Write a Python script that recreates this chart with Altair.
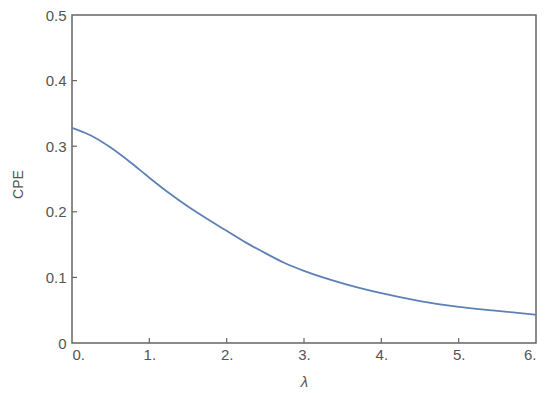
import altair as alt
import pandas as pd

lam = [0, 0.25, 0.5, 0.75, 1.0, 1.25, 1.5, 1.75, 2.0, 2.25, 2.5, 2.75, 3.0,
       3.5, 4.0, 4.5, 5.0, 5.5, 6.0]
cpe = [0.328, 0.316, 0.298, 0.276, 0.252, 0.229, 0.208, 0.189, 0.171, 0.153,
       0.137, 0.122, 0.110, 0.091, 0.076, 0.064, 0.055, 0.049, 0.043]

x_ticks = [0, 1, 2, 3, 4, 5, 6]
y_ticks = [0, 0.1, 0.2, 0.3, 0.4, 0.5]
x_inner_ticks = [1, 2, 3, 4, 5]
y_inner_ticks = [0.1, 0.2, 0.3, 0.4]

W, H = 464, 328
FRAME = "#666666"
TEXT = "#555555"
FONT = "Liberation Sans"

df = pd.DataFrame({"lam": lam, "cpe": cpe})
xt = pd.DataFrame({"t": x_inner_ticks})
yt = pd.DataFrame({"t": y_inner_ticks})

xscale = alt.Scale(domain=[0, 6], nice=False, zero=False)
yscale = alt.Scale(domain=[0, 0.5], nice=False, zero=False)

line = alt.Chart(df).mark_line(color="#5E81B5", strokeWidth=1.8, interpolate="monotone").encode(
    x=alt.X("lam:Q", scale=xscale,
            axis=alt.Axis(values=x_ticks, labelExpr="datum.value + '.'", title="λ",
                          domain=False, ticks=False, grid=False,
                          labelFont=FONT, labelFontSize=15, labelColor=TEXT, labelPadding=4,
                          titleFont=FONT, titleFontSize=15, titleColor=TEXT,
                          titleFontStyle="italic", titleFontWeight="normal",
                          titleY=38, titleBaseline="middle")),
    y=alt.Y("cpe:Q", scale=yscale,
            axis=alt.Axis(values=y_ticks, format="~g", title="CPE",
                          domain=False, ticks=False, grid=False,
                          labelFont=FONT, labelFontSize=15, labelColor=TEXT, labelPadding=6,
                          titleFont=FONT, titleFontSize=14, titleColor=TEXT,
                          titleFontWeight="normal", titleX=-54, titleY=H / 2 + 5,
                          titleBaseline="middle", titleAlign="center", titleAngle=-90)),
)

xtick_rules = alt.Chart(xt).mark_rule(color=FRAME, strokeWidth=1.2).encode(
    x=alt.X("t:Q", scale=xscale), y=alt.value(H), y2=alt.value(H - 5))
ytick_rules = alt.Chart(yt).mark_rule(color=FRAME, strokeWidth=1.2).encode(
    y=alt.Y("t:Q", scale=yscale), x=alt.value(0), x2=alt.value(5))

chart = alt.layer(xtick_rules, ytick_rules, line).properties(
    width=W, height=H,
    autosize=alt.AutoSizeParams(type="none"),
    padding={"left": 64, "top": 7, "right": 6, "bottom": 50},
).configure(background="white").configure_view(stroke=FRAME, strokeWidth=1.5)

chart.save("out.html", embed_options={"renderer": "svg", "actions": False})
